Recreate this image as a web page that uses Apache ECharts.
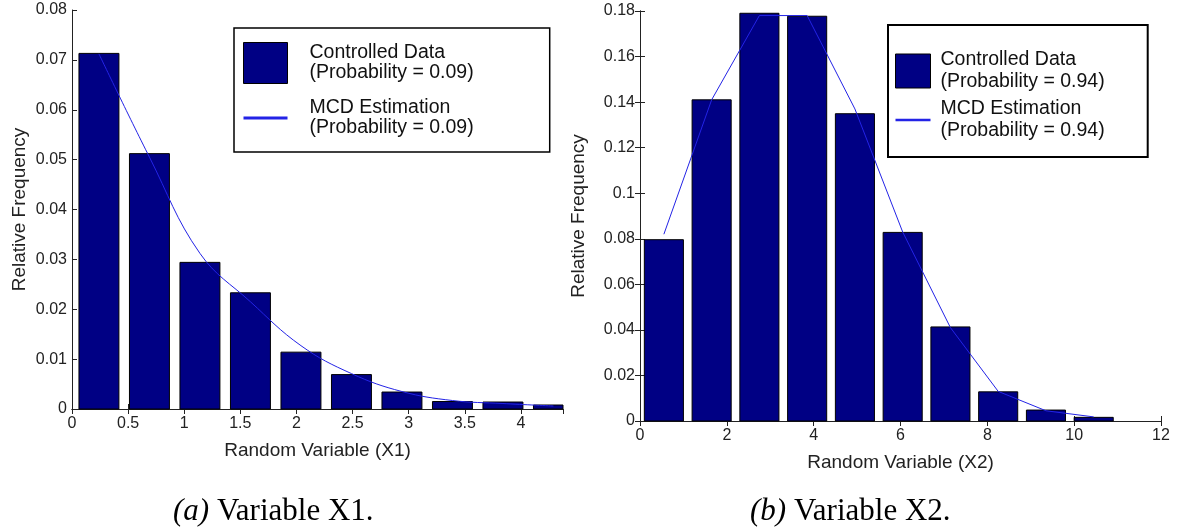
<!DOCTYPE html>
<html>
<head>
<meta charset="utf-8">
<script src="https://cdn.jsdelivr.net/npm/echarts@6/dist/echarts.min.js"></script>
<style>
  html, body { margin: 0; padding: 0; background: #fff; }
  #chart { width: 1183px; height: 529px; }
</style>
</head>
<body>
<div id="chart"></div>
<script>
// (a) Variable X1 — histogram bins (centre, relative frequency) and MCD curve
const x1Centers = [0.24, 0.69, 1.14, 1.59, 2.04, 2.49, 2.94, 3.39, 3.84, 4.29]
const x1Freq = [0.0713, 0.0512, 0.0294, 0.0233, 0.0114, 0.0069, 0.0034, 0.0015, 0.0014, 0.0008]
const x1Mcd = [0.0712, 0.0505, 0.0312, 0.0215, 0.0127, 0.0071, 0.0035, 0.0017, 0.0011, 0.0006]

// (b) Variable X2
const x2Centers = [0.55, 1.65, 2.75, 3.85, 4.95, 6.05, 7.15, 8.25, 9.35, 10.45]
const x2Freq = [0.0796, 0.1410, 0.1790, 0.1777, 0.1349, 0.0828, 0.0413, 0.0128, 0.0048, 0.0016]
const x2Mcd = [0.0820, 0.1410, 0.1780, 0.1780, 0.1370, 0.0830, 0.0410, 0.0130, 0.0045, 0.0018]

const legendBar = ['Controlled Data\n(Probability = 0.09)', 'Controlled Data\n(Probability = 0.94)']
const legendLine = ['MCD Estimation\n(Probability = 0.09)', 'MCD Estimation\n(Probability = 0.94)']

const BAR_COLOR = '#000084'
const LINE_COLOR = '#2323e6'
const AXIS_COLOR = '#222'
const SANS = '"Liberation Sans", Arial, sans-serif'
const LINE_ICON = 'path://M0,0H44V3H0Z'

const pairs = (xs, ys) => xs.map((x, i) => [x, ys[i]])

// bars drawn as rectangles on a value axis, clipped to the grid
const barRenderer = (halfWidth) => (params, api) => {
  const x = api.value(0)
  const y = api.value(1)
  const p0 = api.coord([x - halfWidth, y])
  const p1 = api.coord([x + halfWidth, 0])
  const cs = params.coordSys
  const shape = echarts.graphic.clipRectByRect(
    { x: p0[0], y: p0[1], width: p1[0] - p0[0], height: p1[1] - p0[1] },
    { x: cs.x, y: cs.y, width: cs.width, height: cs.height }
  )
  return shape && {
    type: 'rect',
    shape,
    style: { fill: BAR_COLOR, stroke: '#000', lineWidth: 1 }
  }
}

const bottomAxis = (grid, max, interval, name) => ({
  type: 'value',
  gridIndex: grid,
  min: 0,
  max,
  interval,
  position: 'bottom',
  name,
  nameLocation: 'middle',
  nameGap: 32,
  nameTextStyle: { color: AXIS_COLOR, fontSize: 19, fontFamily: SANS },
  axisLine: { show: true, lineStyle: { color: AXIS_COLOR, width: 1 } },
  axisTick: { show: true, inside: true, length: 5, lineStyle: { color: AXIS_COLOR } },
  axisLabel: { color: AXIS_COLOR, fontSize: 16, fontFamily: SANS, margin: 7, showMaxLabel: max === 12 },
  splitLine: { show: false }
})

const topAxis = (grid, max, interval) => ({
  type: 'value',
  gridIndex: grid,
  min: 0,
  max,
  interval,
  position: 'top',
  axisLine: { show: true, lineStyle: { color: AXIS_COLOR, width: 1 } },
  axisTick: { show: true, inside: true, length: 5, lineStyle: { color: AXIS_COLOR } },
  axisLabel: { show: false },
  splitLine: { show: false }
})

const leftAxis = (grid, max, interval, gap) => ({
  type: 'value',
  gridIndex: grid,
  min: 0,
  max,
  interval,
  position: 'left',
  name: 'Relative Frequency',
  nameLocation: 'middle',
  nameGap: gap,
  nameTextStyle: { color: AXIS_COLOR, fontSize: 19, fontFamily: SANS },
  axisLine: { show: true, lineStyle: { color: AXIS_COLOR, width: 1 } },
  axisTick: { show: true, inside: true, length: 5, lineStyle: { color: AXIS_COLOR } },
  axisLabel: { color: AXIS_COLOR, fontSize: 16, fontFamily: SANS, margin: 5 },
  splitLine: { show: false }
})

const rightAxis = (grid, max, interval, show) => ({
  type: 'value',
  gridIndex: grid,
  min: 0,
  max,
  interval,
  position: 'right',
  axisLine: { show, lineStyle: { color: AXIS_COLOR, width: 1 } },
  axisTick: { show, inside: true, length: 5, lineStyle: { color: AXIS_COLOR } },
  axisLabel: { show: false },
  splitLine: { show: false }
})

const legendItems = (barName, lineName) => [
  { name: barName, icon: 'rect', itemStyle: { color: BAR_COLOR, borderColor: '#000', borderWidth: 1 } },
  { name: lineName, icon: LINE_ICON, itemStyle: { color: LINE_COLOR, borderWidth: 0 } }
]

const option = {
  backgroundColor: '#fff',
  animation: false,
  grid: [
    { left: 72, top: 10, width: 491, height: 399 },
    { left: 640, top: 11, width: 521, height: 410 }
  ],
  xAxis: [
    bottomAxis(0, 4.375, 0.5, 'Random Variable (X1)'),
    topAxis(0, 4.375, 0.5),
    bottomAxis(1, 12, 2, 'Random Variable (X2)'),
    topAxis(1, 12, 2)
  ],
  yAxis: [
    leftAxis(0, 0.08, 0.01, 43),
    rightAxis(0, 0.08, 0.01, false),
    leftAxis(1, 0.18, 0.02, 52),
    rightAxis(1, 0.18, 0.02, true)
  ],
  legend: [
    {
      data: legendItems(legendBar[0], legendLine[0]),
      orient: 'vertical',
      left: 234,
      top: 28,
      itemWidth: 44,
      itemHeight: 41,
      itemGap: 14,
      padding: [14, 76, 14, 9],
      backgroundColor: '#fff',
      borderColor: '#000',
      borderWidth: 1.5,
      borderRadius: 0,
      selectedMode: false,
      textStyle: {
        color: '#111', fontSize: 19.5, fontFamily: SANS, lineHeight: 20,
        padding: [0, 0, 0, 17]
      }
    },
    {
      data: legendItems(legendBar[1], legendLine[1]),
      orient: 'vertical',
      left: 888,
      top: 25,
      itemWidth: 35,
      itemHeight: 34,
      itemGap: 5,
      padding: [24, 43, 15, 7],
      backgroundColor: '#fff',
      borderColor: '#000',
      borderWidth: 2,
      borderRadius: 0,
      selectedMode: false,
      textStyle: {
        color: '#111', fontSize: 19.5, fontFamily: SANS, lineHeight: 22,
        padding: [0, 0, 0, 5]
      }
    }
  ],
  series: [
    {
      name: legendBar[0],
      type: 'custom',
      xAxisIndex: 0,
      yAxisIndex: 0,
      renderItem: barRenderer(0.178),
      encode: { x: 0, y: 1 },
      itemStyle: { color: BAR_COLOR, borderColor: '#000', borderWidth: 1 },
      data: pairs(x1Centers, x1Freq),
      z: 2
    },
    {
      name: legendLine[0],
      type: 'line',
      xAxisIndex: 0,
      yAxisIndex: 0,
      smooth: 0.4,
      showSymbol: false,
      symbol: 'none',
      color: LINE_COLOR,
      lineStyle: { color: LINE_COLOR, width: 1 },
      data: pairs(x1Centers, x1Mcd),
      z: 3
    },
    {
      name: legendBar[1],
      type: 'custom',
      xAxisIndex: 2,
      yAxisIndex: 2,
      renderItem: barRenderer(0.45),
      encode: { x: 0, y: 1 },
      itemStyle: { color: BAR_COLOR, borderColor: '#000', borderWidth: 1 },
      data: pairs(x2Centers, x2Freq),
      z: 2
    },
    {
      name: legendLine[1],
      type: 'line',
      xAxisIndex: 2,
      yAxisIndex: 2,
      showSymbol: false,
      symbol: 'none',
      color: LINE_COLOR,
      lineStyle: { color: LINE_COLOR, width: 1 },
      data: pairs(x2Centers, x2Mcd),
      z: 3
    }
  ],
  graphic: [
    {
      type: 'text',
      left: 173,
      top: 496,
      style: {
        text: '{i|(a)} Variable X1.',
        fill: '#000',
        font: '31px "Liberation Serif", serif',
        rich: { i: { fontStyle: 'italic', fontSize: 31, fontFamily: 'Liberation Serif' } }
      }
    },
    {
      type: 'text',
      left: 750,
      top: 496,
      style: {
        text: '{i|(b)} Variable X2.',
        fill: '#000',
        font: '31px "Liberation Serif", serif',
        rich: { i: { fontStyle: 'italic', fontSize: 31, fontFamily: 'Liberation Serif' } }
      }
    }
  ]
}

const chart = echarts.init(document.getElementById('chart'))
chart.setOption(option)
window.addEventListener('resize', () => chart.resize())
</script>
</body>
</html>
